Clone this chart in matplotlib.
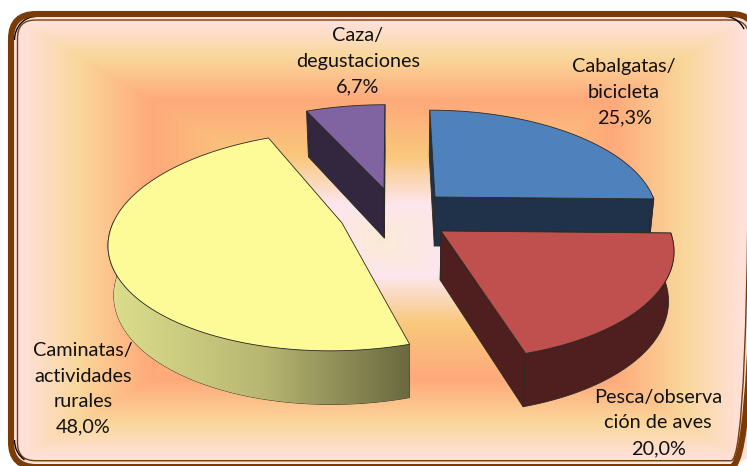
import numpy as np
import matplotlib
matplotlib.use("Agg")
import matplotlib.pyplot as plt
from matplotlib.colors import LinearSegmentedColormap
from matplotlib.patches import FancyBboxPatch, Polygon, Arc

values = [25.3, 20.0, 48.0, 6.7]
names = ["Cabalgatas/\nbicicleta", "Pesca/observa\nción de aves", "Caminatas/\nactividades\nrurales", "Caza/\ndegustaciones"]
top_colors = ["#4F81BD", "#BF504D", "#FDFB98", "#8064A2"]
side_colors = ["#1F3249", "#4E1F1E", None, "#32273F"]

# where every slice sits: cx, cy, rx, ry, skew
geom = [(435, 197, 218, 101, -6),
        (441, 231, 229, 108, -5),
        (342, 223, 229, 107, 10),
        (384, 189, 220, 98, 1)]
label_pos = [(624, 92), (658, 423), (83, 389), (358, 61)]
PERSP = 0.163
DEPTH = 49

fig = plt.figure(figsize=(7.47, 4.66), dpi=100)
ax = fig.add_axes([0, 0, 1, 1])
ax.set_xlim(0, 747)
ax.set_ylim(466, 0)
ax.axis("off")


def rrect(x0, y0, x1, y1, rad, **kw):
    return FancyBboxPatch((x0 + rad, y0 + rad), x1 - x0 - 2 * rad, y1 - y0 - 2 * rad,
                          boxstyle="round,pad=%f,rounding_size=%f" % (rad, rad), **kw)


# background, rectangular path gradient
bg_stops = [(0, "#FFE1DE"), (0.17, "#FAD79B"), (0.37, "#FFA97A"), (0.62, "#F9C87C"), (0.84, "#FDE6EE"), (1, "#FBEAD6")]
bg_cmap = LinearSegmentedColormap.from_list("bg", bg_stops)
xx, yy = np.meshgrid(np.linspace(10, 750, 740), np.linspace(14, 464, 450))
t = 1 - np.maximum(np.abs(xx - 382) / 366, np.abs(yy - 240) / 221)
bg = ax.imshow(np.clip(t, 0, 1), cmap=bg_cmap, vmin=0, vmax=1, extent=(10, 750, 464, 14), aspect="auto", zorder=1)
clip_box = rrect(12, 16, 752, 463, 20, fc="none", ec="none", transform=ax.transData)
ax.add_patch(clip_box)
bg.set_clip_path(clip_box)
ax.set_xlim(0, 747)
ax.set_ylim(466, 0)


def project(g, theta, drop=0):
    cx, cy, rx, ry, skew = g
    u, v = np.sin(theta), np.cos(theta)
    s = 1 / (1 + PERSP * v)
    x = cx + (rx * u + skew * v) * s
    y = cy - ry * v * s + drop * np.sqrt(s)
    # lower rim closes in a little towards the middle of the picture
    x = x - 0.02 * (drop / DEPTH) * (x - 400)
    return x, y


def side_poly(g, th):
    x0, y0 = project(g, th)
    x1, y1 = project(g, th, DEPTH)
    return np.r_[np.c_[x0, y0], np.c_[x1, y1][::-1]]


def radial_poly(g, th):
    # wall under a straight edge, from the apex to the rim
    cx, cy = g[0], g[1]
    x, y = project(g, np.array([th]))
    x1, y1 = project(g, np.array([th]), DEPTH)
    return [(cx, cy), (x[0], y[0]), (x1[0], y1[0]), (cx - 0.02 * (cx - 400), cy + DEPTH)]


fracs = np.array(values) / sum(values)
starts = 2 * np.pi * np.r_[0, np.cumsum(fracs)[:-1]]
ends = starts + 2 * np.pi * fracs
edge = dict(ec="#2A2A22", lw=0.6, joinstyle="round")

for i in [3, 2, 0, 1]:  # back to front
    g = geom[i]
    th = np.linspace(starts[i], ends[i], 120)
    z = 3 + [3, 2, 0, 1].index(i)
    near = th[np.cos(th) < 0.02]
    if side_colors[i] is not None:
        ax.add_patch(Polygon(radial_poly(g, starts[i]), fc=side_colors[i], zorder=z, **edge))
        ax.add_patch(Polygon(radial_poly(g, ends[i]), fc=side_colors[i], zorder=z, **edge))
        if len(near) > 1:
            ax.add_patch(Polygon(side_poly(g, near), fc=side_colors[i], zorder=z, **edge))
    else:
        # yellow wall has a left to right gradient
        vis = near[near < np.deg2rad(272)]
        wall = Polygon(side_poly(g, vis), fc="none", zorder=z, **edge)
        ax.add_patch(wall)
        wall_cmap = LinearSegmentedColormap.from_list("wall", ["#DDDE8C", "#B9B873", "#6A693F"])
        grad = ax.imshow(np.linspace(0, 1, 300)[None, :], cmap=wall_cmap, extent=(108, 411, 410, 240),
                         aspect="auto", zorder=z)
        grad.set_clip_path(wall)
        ax.set_xlim(0, 747)
        ax.set_ylim(466, 0)
    x, y = project(g, th)
    face = np.r_[[(g[0], g[1])], np.c_[x, y]]
    ax.add_patch(Polygon(face, fc=top_colors[i], zorder=z + 0.5, **edge))

# labels
for i in range(4):
    pct = ("%.1f%%" % values[i]).replace(".", ",")
    ax.text(label_pos[i][0], label_pos[i][1], names[i] + "\n" + pct, ha="center", va="center",
            family="Lato", fontsize=14.3, linespacing=1.6, color="#111111", zorder=20)

# frame
ax.add_patch(rrect(17.5, 20, 749, 460.7, 18, fc="none", ec="#7A3B0A", lw=1.0, zorder=10))
ax.add_patch(rrect(11, 14, 756, 467, 25, fc="none", ec="#7A3B06", lw=4.4, zorder=11))
for cx, cy, a0, a1 in [(36, 40, 180, 270), (725, 40, 270, 330), (36, 440, 120, 180)]:
    ax.add_patch(Arc((cx, cy), 43, 47, theta1=a0, theta2=a1, color="black", lw=1.0, zorder=10.5))

fig.savefig("out.png", dpi=100, facecolor="white")
